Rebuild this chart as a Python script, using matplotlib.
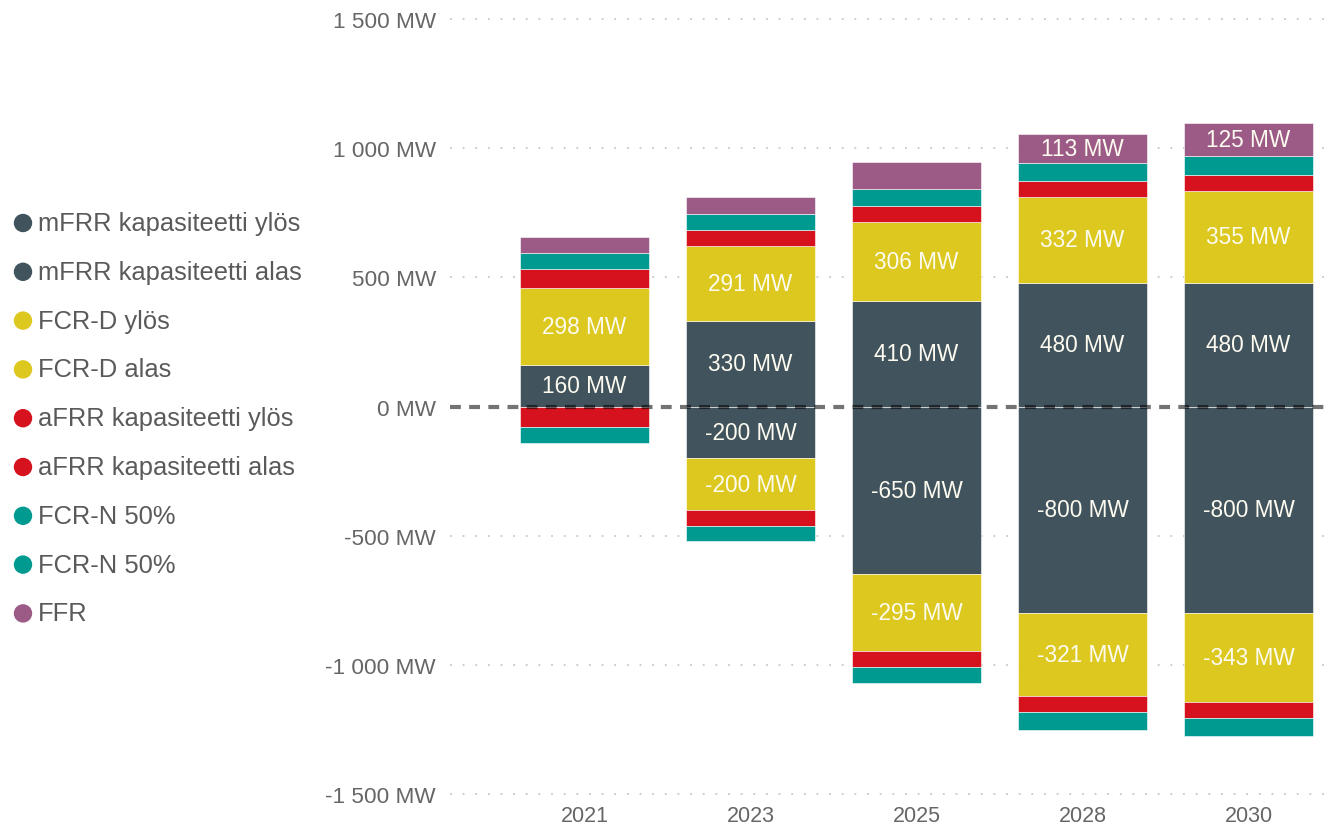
import numpy as np
import matplotlib
matplotlib.use("Agg")
from matplotlib import pyplot as plt

plt.rcParams['font.family'] = ['Liberation Sans', 'DejaVu Sans']

years = ['2021', '2023', '2025', '2028', '2030']

# positive side (stack order bottom -> top)
mfrr_up = [160, 330, 410, 480, 480]
fcrd_up = [298, 291, 306, 332, 355]
afrr_up = [75, 62, 61, 61, 61]
fcrn_up = [63, 61, 65, 70, 75]
ffr = [62, 66, 103, 113, 125]

# negative side (stack order top -> bottom)
mfrr_down = [0, -200, -650, -800, -800]
fcrd_down = [0, -200, -295, -321, -343]
afrr_down = [-80, -62, -62, -62, -61]
fcrn_down = [-62, -59, -63, -68, -72]

legend_names = ['mFRR kapasiteetti ylös', 'mFRR kapasiteetti alas',
                'FCR-D ylös', 'FCR-D alas',
                'aFRR kapasiteetti ylös', 'aFRR kapasiteetti alas',
                'FCR-N 50%', 'FCR-N 50%', 'FFR']

c_mfrr = '#41535d'
c_fcrd = '#dcc81e'
c_afrr = '#d5121e'
c_fcrn = '#019a90'
c_ffr = '#9c5a86'
legend_colors = [c_mfrr, c_mfrr, c_fcrd, c_fcrd, c_afrr, c_afrr, c_fcrn, c_fcrn, c_ffr]

fig = plt.figure(figsize=(13.25, 8.28), dpi=100)
ax = fig.add_axes([450/1325, 1-795/828, 1-450/1325, (795-20)/828])

x = np.arange(len(years))
w = 0.78
label_min = 110

def stack(series, colors, labeled):
    base = np.zeros(len(years))
    for vals, col, lab in zip(series, colors, labeled):
        vals = np.array(vals, dtype=float)
        ax.bar(x, vals, w, bottom=base, color=col, edgecolor='white', linewidth=0.4, zorder=2)
        if lab:
            for xi, b, v in zip(x, base, vals):
                if abs(v) >= label_min:
                    ax.text(xi, b + v / 2, f'{int(v)} MW', ha='center', va='center',
                            color='#fdfbf0', fontsize=16.3, zorder=4)
        base = base + vals

stack([mfrr_up, fcrd_up, afrr_up, fcrn_up, ffr],
      [c_mfrr, c_fcrd, c_afrr, c_fcrn, c_ffr],
      [True, True, False, False, True])
stack([mfrr_down, fcrd_down, afrr_down, fcrn_down],
      [c_mfrr, c_fcrd, c_afrr, c_fcrn],
      [True, True, False, False])

for yv in [-1500, -1000, -500, 500, 1000, 1500]:
    ax.axhline(yv, color='#c8c8c8', lw=1.3, linestyle=(0, (1, 6)), zorder=1, clip_on=False)
ax.axhline(0, color='black', alpha=0.55, lw=3, linestyle=(0, (2.6, 2.0)), zorder=3)

ax.set_xlim(-0.81, 4.46)
ax.set_ylim(-1500, 1500)
ax.set_xticks(x)
ax.set_xticklabels(years)
yt = [-1500, -1000, -500, 0, 500, 1000, 1500]
ax.set_yticks(yt)
ax.set_yticklabels([f'{v:,} MW'.replace(',', ' ') for v in yt])
ax.tick_params(length=0, labelsize=16.2, colors='#666666')
ax.tick_params(axis='y', pad=10)
ax.tick_params(axis='x', pad=8, labelsize=15.5)
for s in ax.spines.values():
    s.set_visible(False)

# legend
for i, (name, col) in enumerate(zip(legend_names, legend_colors)):
    yy = 1 - (224 + i * 48.8) / 828
    fig.patches.append(matplotlib.patches.Ellipse((23/1325, yy), 17/1325, 17/828,
                                                  transform=fig.transFigure, color=col))
    fig.text(38/1325, yy, name, fontsize=18.4, color='#5a5a5a', va='center', ha='left')

plt.savefig('out.png', dpi=100)
